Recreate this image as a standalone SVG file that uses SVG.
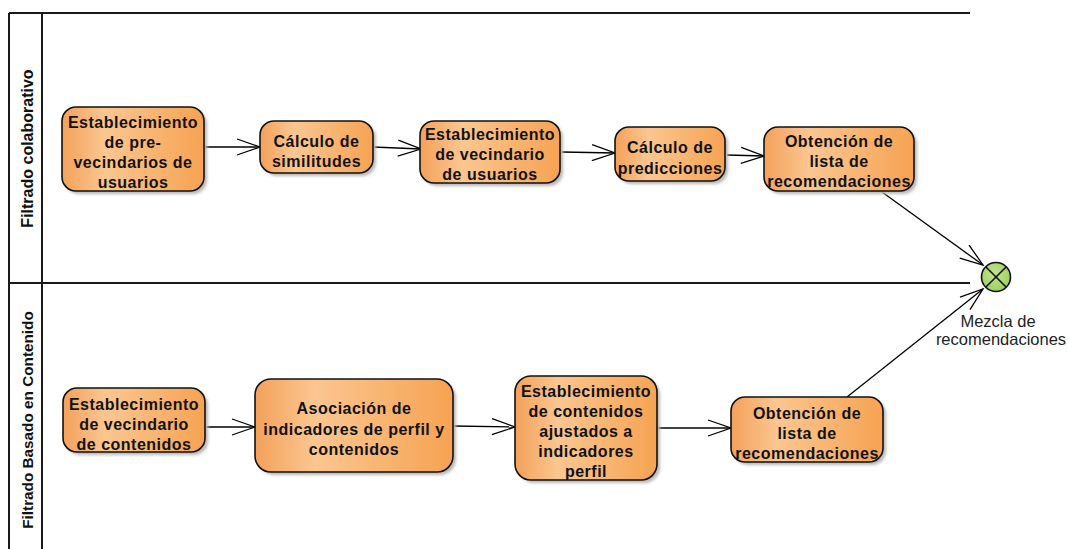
<svg xmlns="http://www.w3.org/2000/svg" width="1068" height="549" viewBox="0 0 1068 549">
<defs>
<linearGradient id="og" x1="0" y1="0" x2="1" y2="0">
<stop offset="0" stop-color="#f3a15a"/>
<stop offset="0.3" stop-color="#fbc690"/>
<stop offset="1" stop-color="#f6a352"/>
</linearGradient>
<radialGradient id="gg" cx="0.45" cy="0.4" r="0.7">
<stop offset="0" stop-color="#c4e58e"/>
<stop offset="1" stop-color="#9acb5a"/>
</radialGradient>
<filter id="sh" x="-10%" y="-10%" width="130%" height="130%">
<feGaussianBlur stdDeviation="1.5"/>
</filter>
<marker id="arr" viewBox="-24 -10 26 20" refX="0" refY="0" markerWidth="26" markerHeight="20" markerUnits="userSpaceOnUse" orient="auto">
<path d="M-23,-8 L0,0 L-23,8" fill="none" stroke="#000" stroke-width="1.3"/>
</marker>
</defs>
<style>
.frame{stroke:#1a1a1a;stroke-width:2;fill:none}
.shadow{fill:#b8b8b8;filter:url(#sh)}
.box{fill:url(#og);stroke:#111;stroke-width:1.6}
.t{font-family:"Liberation Sans",Arial,sans-serif;font-weight:bold;font-size:16px;letter-spacing:0.5px;text-anchor:middle;fill:#111}
.lane{font-family:"Liberation Sans",Arial,sans-serif;font-weight:bold;font-size:16px;text-anchor:middle;fill:#111}
.lbl{font-family:"Liberation Sans",Arial,sans-serif;font-size:16.5px;text-anchor:middle;fill:#222}
.c{stroke:#000;stroke-width:1.3;fill:none;marker-end:url(#arr)}
</style>
<rect width="1068" height="549" fill="#fff"/>
<g id="frame">
<line class="frame" x1="9" y1="13" x2="970" y2="13"/>
<line class="frame" x1="9" y1="283" x2="970" y2="283"/>
<line class="frame" x1="9" y1="13" x2="9" y2="549"/>
<line class="frame" x1="42" y1="13" x2="42" y2="549"/>
<text class="lane" transform="translate(32.5,148.5) rotate(-90)">Filtrado colaborativo</text>
<text class="lane" transform="translate(32.5,420) rotate(-90)" style="font-size:15.3px">Filtrado Basado en Contenido</text>
</g>
<g id="connectors">
<line class="c" x1="204" y1="147" x2="260" y2="147"/>
<line class="c" x1="373" y1="147" x2="421" y2="149"/>
<line class="c" x1="562" y1="152" x2="615" y2="153"/>
<line class="c" x1="727" y1="155" x2="764" y2="156"/>
<line class="c" x1="882" y1="192" x2="983" y2="265"/>
<line class="c" x1="847" y1="397" x2="983" y2="289"/>
<line class="c" x1="205" y1="427" x2="255" y2="427"/>
<line class="c" x1="453" y1="426" x2="515" y2="427"/>
<line class="c" x1="657" y1="428" x2="731" y2="428"/>
</g>
<g id="n1">
<rect class="shadow" x="65" y="110" width="142" height="84" rx="14"/>
<rect class="box" x="62" y="107" width="142" height="84" rx="14"/>
<text class="t" x="133" y="128">Establecimiento</text>
<text class="t" x="133" y="148">de pre-</text>
<text class="t" x="133" y="168">vecindarios de</text>
<text class="t" x="133" y="188">usuarios</text>
</g>
<g id="n2">
<rect class="shadow" x="263" y="124" width="113" height="52" rx="14"/>
<rect class="box" x="260" y="121" width="113" height="52" rx="14"/>
<text class="t" x="316.5" y="147">Cálculo de</text>
<text class="t" x="316.5" y="167">similitudes</text>
</g>
<g id="n3">
<rect class="shadow" x="423" y="124" width="140" height="62" rx="14"/>
<rect class="box" x="420" y="121" width="140" height="62" rx="14"/>
<text class="t" x="490" y="140">Establecimiento</text>
<text class="t" x="490" y="160">de vecindario</text>
<text class="t" x="490" y="180">de usuarios</text>
</g>
<g id="n4">
<rect class="shadow" x="618" y="130" width="110" height="54" rx="14"/>
<rect class="box" x="615" y="127" width="110" height="54" rx="14"/>
<text class="t" x="670" y="153">Cálculo de</text>
<text class="t" x="670" y="174">predicciones</text>
</g>
<g id="n5">
<rect class="shadow" x="767" y="130" width="150" height="64" rx="14"/>
<rect class="box" x="764" y="127" width="150" height="64" rx="14"/>
<text class="t" x="839" y="147">Obtención de</text>
<text class="t" x="839" y="167">lista de</text>
<text class="t" x="839" y="187">recomendaciones</text>
</g>
<g id="merge">
<circle cx="996" cy="277" r="14.5" fill="url(#gg)" stroke="#111" stroke-width="1.6"/>
<line x1="985.7" y1="266.7" x2="1006.3" y2="287.3" stroke="#111" stroke-width="1.6"/>
<line x1="1006.3" y1="266.7" x2="985.7" y2="287.3" stroke="#111" stroke-width="1.6"/>
<text class="lbl" x="998" y="327">Mezcla de</text>
<text class="lbl" x="1001" y="345">recomendaciones</text>
</g>
<g id="n6">
<rect class="shadow" x="66" y="391" width="142" height="64" rx="14"/>
<rect class="box" x="63" y="388" width="142" height="64" rx="14"/>
<text class="t" x="134" y="410">Establecimiento</text>
<text class="t" x="134" y="430">de vecindario</text>
<text class="t" x="134" y="450">de contenidos</text>
</g>
<g id="n7">
<rect class="shadow" x="258" y="382" width="198" height="93" rx="16"/>
<rect class="box" x="255" y="379" width="198" height="93" rx="16"/>
<text class="t" x="354" y="414">Asociación de</text>
<text class="t" x="354" y="435">indicadores de perfil y</text>
<text class="t" x="354" y="455">contenidos</text>
</g>
<g id="n8">
<rect class="shadow" x="518" y="379" width="142" height="104" rx="16"/>
<rect class="box" x="515" y="376" width="142" height="104" rx="16"/>
<text class="t" x="586" y="397">Establecimiento</text>
<text class="t" x="586" y="417">de contenidos</text>
<text class="t" x="586" y="437">ajustados a</text>
<text class="t" x="586" y="457">indicadores</text>
<text class="t" x="586" y="477">perfil</text>
</g>
<g id="n9">
<rect class="shadow" x="734" y="400" width="152" height="65" rx="14"/>
<rect class="box" x="731" y="397" width="152" height="65" rx="14"/>
<text class="t" x="807" y="419">Obtención de</text>
<text class="t" x="807" y="439">lista de</text>
<text class="t" x="807" y="459">recomendaciones</text>
</g>
</svg>
